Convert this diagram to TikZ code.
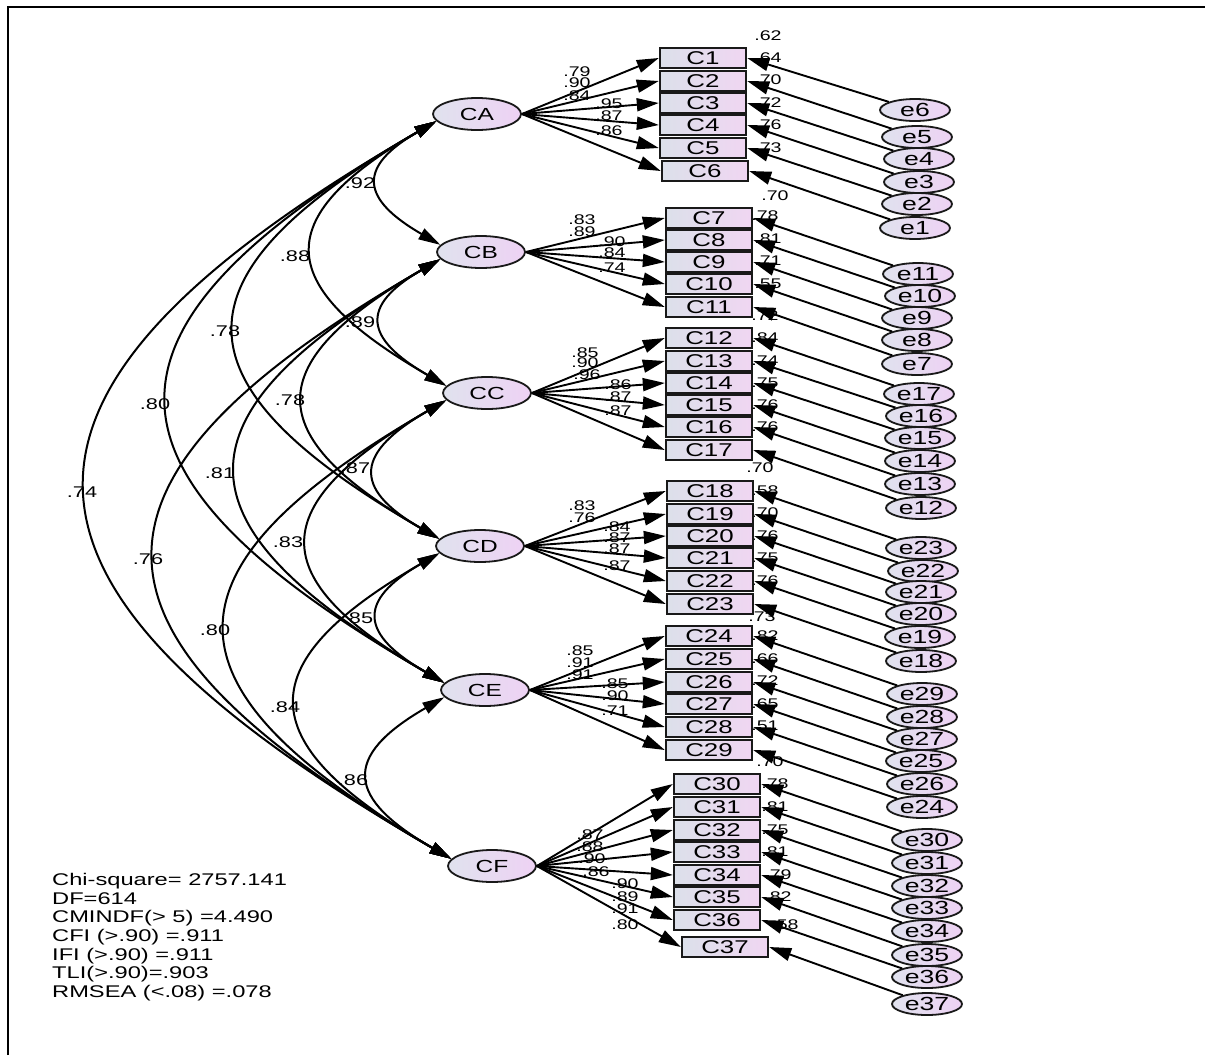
\documentclass[tikz,border=0pt]{standalone}
\usepackage{fontspec}
\setmainfont{Liberation Sans}[FakeStretch=1.4]
\usetikzlibrary{arrows.meta,shapes.geometric}
\definecolor{latL}{RGB}{224,226,238}
\definecolor{latR}{RGB}{238,210,244}
\definecolor{boxL}{RGB}{220,224,234}
\definecolor{boxR}{RGB}{240,214,242}
\definecolor{ink}{RGB}{25,25,25}
\begin{document}
\begin{tikzpicture}[x=1pt,y=1pt,
 lat/.style={ellipse,draw=ink,line width=1.8pt,minimum width=88pt,minimum height=32pt,inner sep=0pt,left color=latL,right color=latR,font=\fontsize{17.5}{17.5}\selectfont},
 obs/.style={rectangle,draw=ink,line width=2.4pt,minimum width=86pt,minimum height=20pt,inner sep=0pt,left color=boxL,right color=boxR,font=\fontsize{18.5}{18.5}\selectfont},
 err/.style={ellipse,draw=ink,line width=1.8pt,minimum width=70pt,minimum height=22pt,inner sep=0pt,left color=latL,right color=latR,font=\fontsize{19}{19}\selectfont},
 lab/.style={inner sep=0pt,font=\fontsize{14}{14}\selectfont},
 clab/.style={inner sep=0pt,font=\fontsize{15.5}{15.5}\selectfont},
 fitstat/.style={inner sep=0pt,align=left,font=\fontsize{16.9}{18.7}\selectfont},
 arr/.style={-{Triangle[length=22pt,width=13pt]},line width=1.9pt,draw=black},
 corr/.style={{Triangle[length=22pt,width=12pt]}-{Triangle[length=22pt,width=12pt]},line width=2pt,looseness=1.9},
]
\useasboundingbox (0,0) rectangle (1215,-1055);
\fill[white] (0,0) rectangle (1215,-1055);
\coordinate (fa) at (8,-1055);
\coordinate (fb) at (8,-7);
\coordinate (fc) at (1205,-7);
\draw[line width=2.8pt] (fa) -- (fb) -- (fc);

% R-squared labels
\foreach \x/\y/\t [count=\i] in {768/36/.62,768/58/.64,768/80/.70,768/103/.72,768/125/.76,768/148/.73,775/196/.70,
 765/216/.78,768/239/.81,768/261/.71,768/284/.55,765/316/.72,
 765/338/.84,765/361/.74,765/383/.75,765/405/.76,765/427/.76,760/468/.70,
 765/491/.58,765/513/.70,765/536/.76,765/558/.75,765/581/.76,762/617/.73,
 765/636/.82,765/659/.66,765/681/.72,765/704/.65,765/726/.51,770/762/.70,
 775/784/.78,775/807/.81,775/830/.75,775/852/.81,778/875/.79,778/897/.82,785/925/.58}
 \node[lab] (r\i) at (\x,-\y) {\t};

% loading labels
\foreach \x/\y/\t [count=\i] in {577/72/.79,577/83/.90,577/96/.84,609/104/.95,609/116/.87,609/131/.86,
 582/220/.83,582/232/.89,612/242/.90,612/253/.84,612/268/.74,
 585/353/.85,585/363/.90,587/375/.96,618/385/.86,618/397/.87,618/411/.87,
 582/506/.83,582/518/.76,617/527/.84,617/538/.87,617/549/.87,617/566/.87,
 580/651/.85,580/663/.91,580/675/.91,615/684/.85,615/696/.90,615/711/.71,
 590/835/.87,590/847/.88,592/859/.90,596/872/.86,625/884/.90,625/897/.89,625/909/.91,625/925/.80}
 \node[lab] (w\i) at (\x,-\y) {\t};

% correlation labels
\foreach \x/\y/\t [count=\i] in {360/183/.92,295/256/.88,225/331/.78,155/404/.80,82/492/.74,
 360/322/.89,290/400/.78,220/473/.81,148/559/.76,
 355/468/.87,288/542/.83,215/630/.80,
 358/618/.85,285/707/.84,353/780/.86}
 \node[clab] (k\i) at (\x,-\y) {\t};

% latent variables
\foreach \n/\x/\y in {CA/477/114,CB/481/252,CC/487/393,CD/480/546,CE/485/690,CF/492/866}
 \node[lat] (\n) at (\x,-\y) {\n};

% observed variables
\foreach \n/\x/\y in {C1/703/58,C2/703/81,C3/703/103,C4/703/125,C5/703/148,C6/705/171,
 C7/709/218,C8/709/240,C9/709/262,C10/709/284,C11/709/307,
 C12/709/338,C13/709/361,C14/709/383,C15/709/405,C16/709/427,C17/709/450,
 C18/710/491,C19/710/514,C20/710/536,C21/710/558,C22/710/581,C23/710/604,
 C24/709/636,C25/709/659,C26/709/682,C27/709/704,C28/709/727,C29/709/750,
 C30/717/784,C31/717/807,C32/717/830,C33/717/852,C34/717/875,C35/717/897,C36/717/920,C37/725/947}
 \node[obs] (\n) at (\x,-\y) {\n};

% loadings
\foreach \t in {C1,C2,C3,C4,C5,C6} \draw[arr] (CA.east) -- (\t.west);
\foreach \t in {C7,C8,C9,C10,C11} \draw[arr] (CB.east) -- (\t.west);
\foreach \t in {C12,C13,C14,C15,C16,C17} \draw[arr] (CC.east) -- (\t.west);
\foreach \t in {C18,C19,C20,C21,C22,C23} \draw[arr] (CD.east) -- (\t.west);
\foreach \t in {C24,C25,C26,C27,C28,C29} \draw[arr] (CE.east) -- (\t.west);
\foreach \t in {C30,C31,C32,C33,C34,C35,C36,C37} \draw[arr] (CF.east) -- (\t.west);

% errors
\foreach \n/\x/\y/\t in {e6/915/110/C1,e5/917/137/C2,e4/919/159/C3,e3/919/182/C4,e2/917/204/C5,e1/915/228/C6,
 e11/918/274/C7,e10/920/296/C8,e9/917/318/C9,e8/917/340/C10,e7/917/364/C11,
 e17/919/394/C12,e16/921/416/C13,e15/920/438/C14,e14/920/461/C15,e13/920/484/C16,e12/921/508/C17,
 e23/921/548/C18,e22/923/571/C19,e21/921/592/C20,e20/921/614/C21,e19/920/637/C22,e18/921/661/C23,
 e29/922/694/C24,e28/922/717/C25,e27/922/739/C26,e25/921/761/C27,e26/922/784/C28,e24/922/807/C29,
 e30/927/840/C30,e31/927/863/C31,e32/927/886/C32,e33/927/908/C33,e34/927/931/C34,e35/927/955/C35,e36/927/977/C36,e37/927/1004/C37}
 {\node[err] (\n) at (\x,-\y) {\n};
  \draw[arr] (\n) -- (\t.east);}

% correlations
\foreach \a/\b in {CA/CB,CA/CC,CA/CD,CA/CE,CA/CF,CB/CC,CB/CD,CB/CE,CB/CF,CC/CD,CC/CE,CC/CF,CD/CE,CD/CF,CE/CF}
 \draw[corr] (\a.190) to[out=210,in=150] (\b.170);

\node[fitstat,anchor=north west] (fit) at (52,-873) {Chi-square= 2757.141\\DF=614\\CMINDF(> 5) =4.490\\CFI (>.90) =.911\\IFI (>.90) =.911\\TLI(>.90)=.903\\RMSEA (<.08) =.078};
\end{tikzpicture}
\end{document}
